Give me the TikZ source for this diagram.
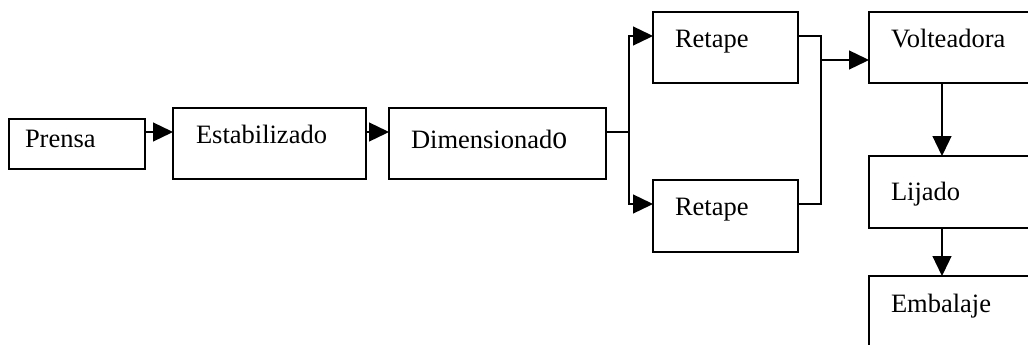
\documentclass[tikz,border=0pt]{standalone}
\usepackage{fontspec}
\usepackage{graphicx}
\setmainfont{Liberation Serif}
\usetikzlibrary{arrows.meta,calc}
\begin{document}
\begin{tikzpicture}[x=1pt,y=-1pt,
  box/.style={draw,line width=1.5pt,anchor=north west,inner ysep=0pt,outer sep=0pt,
    align=left,font=\fontsize{26.5}{30}\selectfont},
  conn/.style={line width=1.3pt},
  arr/.style={conn,-{Triangle[length=20pt,width=19pt]}}]
\useasboundingbox (0,0) rectangle (1028,345);
% boxes: inner xsep = left padding, text height/depth fix the box height and baseline
\node[box,inner xsep=16pt,text width=104pt,text height=28pt,text depth=22pt] (prensa) at (9,119) {Prensa};
\node[box,inner xsep=23pt,text width=147pt,text height=35pt,text depth=36pt] (estab) at (173,108) {Estabilizado};
\node[box,inner xsep=22pt,text width=173pt,text height=40pt,text depth=31pt] (dim) at (389,108) {Dimensionad\scalebox{1.12}[1.25]{o}};
\node[box,inner xsep=22pt,text width=101pt,text height=36pt,text depth=35pt] (ret1) at (653,12) {Retape};
\node[box,inner xsep=22pt,text width=101pt,text height=35pt,text depth=37pt] (ret2) at (653,180) {Retape};
\node[box,inner xsep=22pt,text width=127pt,text height=36pt,text depth=35pt] (volt) at (869,12) {Volteadora};
\node[box,inner xsep=22pt,text width=127pt,text height=44pt,text depth=28pt] (lij) at (869,156) {Lijado};
\node[box,inner xsep=22pt,text width=127pt,text height=36pt,text depth=48pt] (emb) at (869,276) {Embalaje};
% connectors
\coordinate (p1) at ([yshift=-13pt]prensa.north east);
\draw[arr] (p1) -- (p1 -| estab.west);
\coordinate (e1) at ([yshift=-24pt]estab.north east);
\draw[arr] (e1) -- (e1 -| dim.west);
\coordinate (d1) at ([yshift=-24pt]dim.north east);
\coordinate (j1) at ([xshift=23pt]d1);
\draw[conn] (d1) -- (j1);
\draw[arr] (j1) |- ([yshift=-24pt]ret1.north west);
\draw[arr] (j1) |- ([yshift=-24pt]ret2.north west);
\coordinate (r1) at ([yshift=-24pt]ret1.north east);
\coordinate (r2) at ([yshift=-24pt]ret2.north east);
\coordinate (j2) at ([xshift=23pt,yshift=-48pt]ret1.north east);
\draw[conn] (r1) -| (j2);
\draw[conn] (r2) -| (j2);
\draw[arr] (j2) -- (j2 -| volt.west);
\draw[arr] ([xshift=73pt]volt.south west) -- ([xshift=73pt]lij.north west);
\draw[arr] ([xshift=73pt]lij.south west) -- ([xshift=73pt]emb.north west);
\end{tikzpicture}
\end{document}
